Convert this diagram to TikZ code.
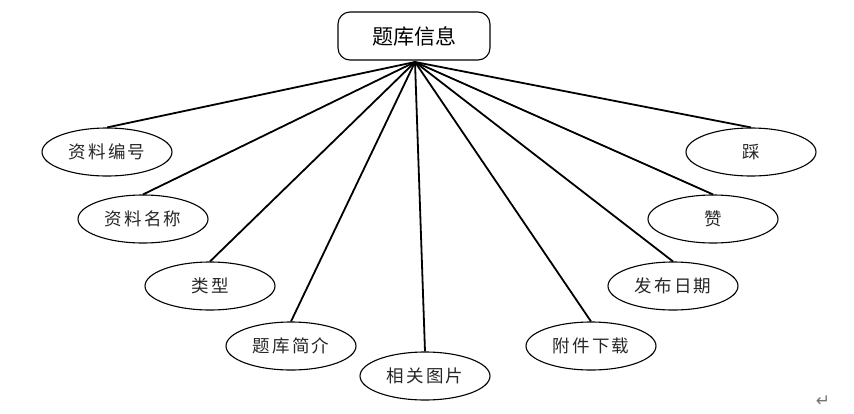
\documentclass[tikz,border=0pt]{standalone}
\usepackage{fontspec}
\newfontfamily\cjk[LetterSpace=12]{Noto Sans CJK SC}
\newfontfamily\cjktitle{Noto Sans CJK SC}
\newfontfamily\symfont{DejaVu Sans}
\usetikzlibrary{shapes.geometric}
\begin{document}
\begin{tikzpicture}[x=1pt,y=-1pt,
  attr/.style={ellipse,draw,line width=1.1pt,minimum width=130pt,minimum height=48pt,inner sep=0pt,font=\cjk\fontsize{17.5}{20}\selectfont,text=black!85},
  entity/.style={draw,rounded corners=12pt,line width=1.1pt,minimum width=152pt,minimum height=48pt,inner sep=0pt,font=\cjktitle\fontsize{21}{24}\selectfont},
  conn/.style={line width=1.8pt}]
\useasboundingbox (0,0) rectangle (854,413);
\node[entity] (main) at (414,36) {题库信息};
\coordinate (hub) at (415,62);
\node[attr] (a1) at (107,152) {资料编号};
\node[attr] (a2) at (143,219) {资料名称};
\node[attr] (a3) at (210,286) {类型};
\node[attr] (a4) at (291,346) {题库简介};
\node[attr] (a5) at (425,376) {相关图片};
\node[attr] (a6) at (591,346) {附件下载};
\node[attr] (a7) at (673,286) {发布日期};
\node[attr] (a8) at (713,219) {赞};
\node[attr] (a9) at (751,152) {踩};
\foreach \n in {a1,a2,a3,a4,a5,a6,a7,a8,a9}
  \draw[conn] (hub) -- (\n.north);
\node[font=\symfont\fontsize{17}{18}\selectfont,text=black!55] (ret) at (823,401) {↵};
\end{tikzpicture}
\end{document}
